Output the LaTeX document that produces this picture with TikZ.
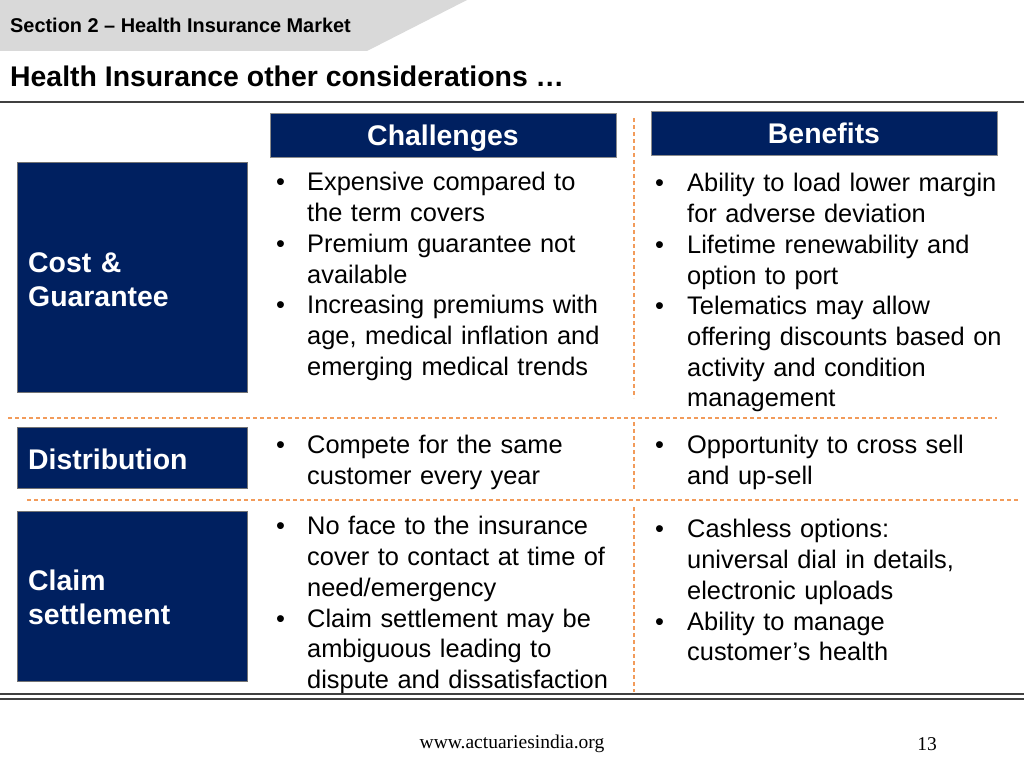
\documentclass[tikz,border=0pt]{standalone}
\usepackage{fontspec}
\setmainfont{Liberation Sans}
\newfontfamily\footfont{Liberation Serif}
\definecolor{navy}{RGB}{0,32,96}
\definecolor{bandgray}{RGB}{217,217,217}
\definecolor{dashor}{RGB}{242,155,90}
\definecolor{rulegray}{RGB}{64,64,64}
\newcommand\nl{\unskip\hfil\break}
\newcommand\bit[2]{\par\noindent\hangindent=#1\relax\hangafter=1\relax\hbox to #1{\strut\textbullet\hfil}#2\par}
\begin{document}
\begin{tikzpicture}[x=1pt,y=-1pt,
  hdrbox/.style={fill=navy, draw=black!45, line width=0.8pt, minimum width=346pt, minimum height=44pt, inner sep=0pt, text=white, font=\fontsize{28.4}{34}\selectfont\bfseries, text height=20.3pt, text depth=0pt},
  sidebox/.style={fill=navy, draw=black!55, line width=0.8pt, anchor=north west, inner sep=0pt, minimum width=230pt},
  sidelabel/.style={anchor=north west, inner sep=0pt, text=white, text width=215pt, align=left, font=\fontsize{28.4}{34.1}\selectfont\bfseries},
  body/.style={anchor=north west, inner sep=0pt, text width=#1, align=left, font=\fontsize{25.4}{30.7}\selectfont},
  sep/.style={draw=dashor, line width=1.2pt, dash pattern=on 4pt off 3pt},
]
\useasboundingbox (0,0) rectangle (1024,768);
\fill[white] (0,0) rectangle (1024,768);
% header band
\fill[bandgray] (0,0) -- (467,0) -- (367,51) -- (0,51) -- cycle;
\node[anchor=base west, inner sep=0pt, font=\fontsize{19.9}{24}\selectfont\bfseries] (sec) at (10,33) {Section 2 – Health Insurance Market};
\node[anchor=base west, inner sep=0pt, font=\fontsize{28.4}{34}\selectfont\bfseries] (title) at (10,86) {Health Insurance other considerations …};
\coordinate (rl) at (0,102); \coordinate (rr) at (1024,102);
\draw[rulegray, line width=1.5pt] (rl) -- (rr);
% column headers
\node[hdrbox] (chal) at (443,135) {Challenges};
\node[hdrbox] (bene) at (824,133) {Benefits};
% side boxes
\node[sidebox, minimum height=230pt] (cost) at (17,162) {};
\node[sidebox, minimum height=61pt] (dist) at (17,427) {};
\node[sidebox, minimum height=170pt] (claim) at (17,511) {};
\node[sidelabel] (costl) at (28,248.1) {\strut Cost \&\nl Guarantee};
\node[sidelabel] (distl) at (28,445.1) {\strut Distribution};
\node[sidelabel] (claiml) at (28,566.1) {\strut Claim\nl settlement};
% separators
\coordinate (v1a) at (634,118); \coordinate (v1b) at (634,398);
\coordinate (v2a) at (634,422); \coordinate (v2b) at (634,491);
\coordinate (v3a) at (634,507); \coordinate (v3b) at (634,692);
\coordinate (h1a) at (8,418); \coordinate (h1b) at (997,418);
\coordinate (h2a) at (27,500); \coordinate (h2b) at (1020,500);
\draw[sep] (v1a) -- (v1b);
\draw[sep] (v2a) -- (v2b);
\draw[sep] (v3a) -- (v3b);
\draw[sep] (h1a) -- (h1b);
\draw[sep] (h2a) -- (h2b);
% body text
\node[body=350pt] (chA) at (276,160) {\bit{31pt}{Expensive compared to\nl the term covers}\bit{31pt}{Premium guarantee not\nl available}\bit{31pt}{Increasing premiums with\nl age, medical inflation and\nl emerging medical trends}};
\node[body=360pt] (beA) at (655,161) {\bit{32pt}{Ability to load lower margin\nl for adverse deviation}\bit{32pt}{Lifetime renewability and\nl option to port}\bit{32pt}{Telematics may allow\nl offering discounts based on\nl activity and condition\nl management}};
\node[body=350pt] (chB) at (276,423) {\bit{31pt}{Compete for the same\nl customer every year}};
\node[body=360pt] (beB) at (655,423) {\bit{32pt}{Opportunity to cross sell\nl and up-sell}};
\node[body=350pt] (chC) at (276,504) {\bit{31pt}{No face to the insurance\nl cover to contact at time of\nl need/emergency}\bit{31pt}{Claim settlement may be\nl ambiguous leading to\nl dispute and dissatisfaction}};
\node[body=360pt] (beC) at (655,507) {\bit{32pt}{Cashless options:\nl universal dial in details,\nl electronic uploads}\bit{32pt}{Ability to manage\nl customer’s health}};
% bottom rules
\coordinate (b1l) at (0,694); \coordinate (b1r) at (1024,694);
\coordinate (b2l) at (0,699); \coordinate (b2r) at (1024,699);
\draw[rulegray, line width=2pt] (b1l) -- (b1r);
\draw[rulegray, line width=1.3pt] (b2l) -- (b2r);
% footer
\node[inner sep=0pt, font=\footfont\fontsize{19.5}{23}\selectfont] (url) at (512,744) {www.actuariesindia.org};
\node[inner sep=0pt, font=\footfont\fontsize{19.5}{23}\selectfont] (pg) at (927,744) {13};
\end{tikzpicture}
\end{document}
